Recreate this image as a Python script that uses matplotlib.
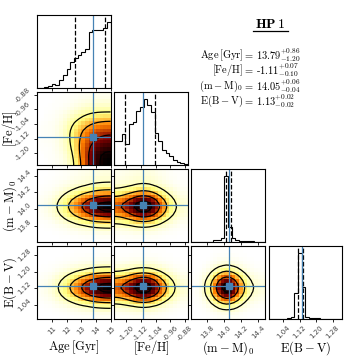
import numpy as np
import matplotlib.pyplot as plt
from matplotlib.lines import Line2D

plt.rcParams['mathtext.fontset'] = 'cm'

# parameters of the fit
labels = [r'$\mathrm{Age\,[Gyr]}$', r'$\mathrm{[Fe/H]}$',
          r'$(\mathrm{m}-\mathrm{M})_0$', r'$\mathrm{E(B}-\mathrm{V)}$']
ranges = [(10.0, 15.0), (-1.265, -0.865), (13.61, 14.48), (0.97, 1.325)]
ticks = [[11, 12, 13, 14, 15],
         [-1.20, -1.12, -1.04, -0.96, -0.88],
         [13.8, 14.0, 14.2, 14.4],
         [1.04, 1.12, 1.20, 1.28]]
tick_fmt = ['{:.0f}', '{:.2f}', '{:.1f}', '{:.2f}']
truths = [13.79, -1.11, 14.05, 1.13]
q_lo = [12.59, -1.205, 14.015, 1.110]
q_hi = [14.65, -1.045, 14.080, 1.137]

# 1D histograms (20 bins over each range)
age_counts = [1, 2, 4, 6, 12, 9, 24, 40, 58, 78, 90, 100, 110, 118, 168, 176, 176, 175, 180, 200]
feh_counts = [75, 75, 94, 64, 124, 130, 165, 178, 202, 182, 162, 97, 72, 47, 37, 27, 17, 10, 6, 4]
mm_counts = [0, 0, 0, 0, 1, 2, 6, 6, 14, 200, 47, 14, 8, 5, 4, 4, 4, 2, 2, 2]
ebv_counts = [0, 0, 0, 1, 1, 2, 6, 80, 200, 97, 6, 4, 3, 2, 1, 1, 1, 0, 0, 0]
hists = [age_counts, feh_counts, mm_counts, ebv_counts]

# Age vs [Fe/H] density (coarse, rows [Fe/H] low->high, cols Age low->high)
age_feh_density = [
    [0.00, 0.01, 0.02, 0.04, 0.12, 0.30, 0.58, 0.82, 0.96, 1.00],
    [0.00, 0.01, 0.02, 0.05, 0.15, 0.35, 0.60, 0.82, 0.95, 0.98],
    [0.01, 0.01, 0.03, 0.07, 0.19, 0.38, 0.58, 0.76, 0.86, 0.90],
    [0.01, 0.02, 0.03, 0.08, 0.22, 0.38, 0.53, 0.66, 0.74, 0.78],
    [0.01, 0.02, 0.03, 0.09, 0.22, 0.36, 0.48, 0.58, 0.64, 0.66],
    [0.01, 0.02, 0.03, 0.07, 0.18, 0.29, 0.38, 0.45, 0.49, 0.51],
    [0.00, 0.01, 0.02, 0.05, 0.11, 0.18, 0.25, 0.30, 0.33, 0.34],
    [0.00, 0.01, 0.01, 0.03, 0.05, 0.09, 0.13, 0.16, 0.17, 0.17],
    [0.00, 0.00, 0.01, 0.01, 0.02, 0.04, 0.06, 0.07, 0.08, 0.08],
    [0.00, 0.00, 0.00, 0.01, 0.01, 0.02, 0.02, 0.03, 0.03, 0.03],
]

nbins = 20
smooth_sigma = 2.7
levels = 1.0 - np.exp(-0.5 * np.arange(0.5, 2.1, 0.5) ** 2)
truth_color = '#4682b4'


def smooth(H, s):
    r = int(4 * s) + 1
    k = np.exp(-0.5 * (np.arange(-r, r + 1) / s) ** 2)
    k /= k.sum()
    for axis in (0, 1):
        pad = [(r, r) if a == axis else (0, 0) for a in range(2)]
        Hp = np.pad(H, pad, mode='symmetric')
        H = np.apply_along_axis(lambda m: np.convolve(m, k, mode='valid'), axis, Hp)
    return H


def density(i, j):
    # i = row (y parameter), j = column (x parameter)
    if (i, j) == (1, 0):
        H = np.kron(np.array(age_feh_density), np.ones((2, 2)))
        return smooth(H, 1.0)
    H = np.outer(np.array(hists[i], float), np.array(hists[j], float))
    return smooth(H, smooth_sigma)


fig = plt.figure(figsize=(3.57, 3.57), dpi=100)
gs = fig.add_gridspec(4, 4, left=0.104, right=0.958, bottom=0.106, top=0.958,
                      wspace=0.05, hspace=0.05)

for i in range(4):
    for j in range(4):
        ax = fig.add_subplot(gs[i, j])
        if j > i:
            ax.set_frame_on(False)
            ax.set_xticks([])
            ax.set_yticks([])
            continue
        edges_x = np.linspace(*ranges[j], nbins + 1)
        if i == j:
            c = np.array(hists[i], float)
            ax.stairs(c, edges_x, color='k', lw=0.8, baseline=0)
            ax.set_ylim(0, 1.1 * c.max())
            ax.set_yticks([])
            for q in (q_lo[i], q_hi[i]):
                ax.axvline(q, color='k', ls='--', lw=0.9)
            ax.axvline(truths[i], color=truth_color, lw=0.9)
        else:
            edges_y = np.linspace(*ranges[i], nbins + 1)
            H = density(i, j)
            ax.pcolormesh(edges_x, edges_y, H, cmap='afmhot_r', vmin=0, vmax=H.max(),
                          shading='flat', rasterized=True)
            # contour levels enclosing given fractions of the mass
            flat = np.sort(H.ravel())[::-1]
            cum = np.cumsum(flat) / flat.sum()
            V = np.sort([flat[np.argmin(np.abs(cum - l))] for l in levels])
            for k in range(1, len(V)):
                if V[k] <= V[k - 1]:
                    V[k] = V[k - 1] * 1.0001
            xc = 0.5 * (edges_x[1:] + edges_x[:-1])
            yc = 0.5 * (edges_y[1:] + edges_y[:-1])
            xc = np.concatenate([[edges_x[0]], xc, [edges_x[-1]]])
            yc = np.concatenate([[edges_y[0]], yc, [edges_y[-1]]])
            Hp = np.pad(H, 1, mode='edge')
            ax.contour(xc, yc, Hp, V, colors='k', linewidths=0.9)
            ax.axvline(truths[j], color=truth_color, lw=0.9)
            ax.axhline(truths[i], color=truth_color, lw=0.9)
            ax.plot(truths[j], truths[i], 's', color=truth_color, ms=4)
            ax.set_ylim(*ranges[i])
            ax.set_yticks(ticks[i])
            if j == 0:
                ax.set_yticklabels([tick_fmt[i].format(t) for t in ticks[i]],
                                   rotation=45, va='center', fontsize=5, color='#444444')
                ax.set_ylabel(labels[i], fontsize=9)
                ax.yaxis.set_label_coords(-0.25, 0.5)
            else:
                ax.set_yticklabels([])
        ax.set_xlim(*ranges[j])
        ax.set_xticks(ticks[j])
        if i == 3:
            ax.set_xticklabels([tick_fmt[j].format(t) for t in ticks[j]],
                               rotation=45, ha='center', fontsize=5, color='#444444')
            ax.set_xlabel(labels[j], fontsize=9)
            ax.xaxis.set_label_coords(0.5, -0.27)
        else:
            ax.set_xticklabels([])
        ax.tick_params(length=2.5, width=0.6, pad=1.5)
        for s in ax.spines.values():
            s.set_linewidth(0.8)

# summary text
fig.text(270 / 357, 1 - 24 / 357, r'$\mathbf{HP\,1}$', ha='center', va='center', fontsize=10)
fig.add_artist(Line2D([253 / 357, 288 / 357], [1 - 30.5 / 357] * 2, color='k', lw=0.9))

row_names = [r'$\mathrm{Age\,[Gyr]}$', r'$\mathrm{[Fe/H]}$',
             r'$(\mathrm{m}-\mathrm{M})_0$', r'$\mathrm{E(B}-\mathrm{V)}$']
values = ['13.79', '-1.11', '14.05', '1.13']
err_up = ['0.86', '0.07', '0.06', '0.02']
err_dn = ['1.20', '0.10', '0.04', '0.02']
row_y = [55, 70, 86, 101]
for name, v, up, dn, y in zip(row_names, values, err_up, err_dn, row_y):
    yf = 1 - y / 357
    fig.text(243 / 357, yf, name, ha='right', va='center', fontsize=7.5)
    fig.text(249 / 357, yf, r'$=$', ha='center', va='center', fontsize=7.5)
    fig.text(256 / 357, yf, v + r'$^{+' + up + r'}_{-' + dn + r'}$',
             ha='left', va='center', fontsize=7.5, family='cmr10')

fig.savefig('out.png', dpi=100)
